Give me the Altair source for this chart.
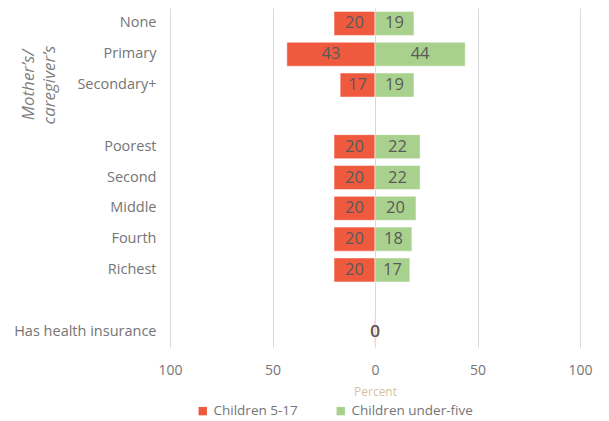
import altair as alt
import pandas as pd

categories = ["None", "Primary", "Secondary+", "Poorest", "Second", "Middle",
              "Fourth", "Richest", "Has health insurance"]
children_5_17 = [20, 43, 17, 20, 20, 20, 20, 20, 0.3]
children_under5 = [19, 44, 19, 22, 22, 20, 18, 17, 0.4]
y_domain = ["None", "Primary", "Secondary+", " ", "Poorest", "Second", "Middle",
            "Fourth", "Richest", "  ", "Has health insurance"]
series = ["Children 5-17", "Children under-five"]
colors = ["#EF5A3F", "#A9D18E"]
x_ticks = [-100, -50, 0, 50, 100]

rows = []
for c, a, b in zip(categories, children_5_17, children_under5):
    rows.append({"cat": c, "series": series[0], "x": -a, "mid": -a / 2, "label": str(round(a))})
    rows.append({"cat": c, "series": series[1], "x": b, "mid": b / 2, "label": str(round(b))})
df = pd.DataFrame(rows)

FONT = "Open Sans"
LABEL_GREY = "#757575"

yenc = alt.Y("cat:N", sort=y_domain,
             scale=alt.Scale(domain=y_domain, paddingInner=0.22, paddingOuter=0.11),
             axis=alt.Axis(title=None, domain=False, ticks=False, grid=False,
                           labelFontSize=14.5, labelColor=LABEL_GREY, labelPadding=14,
                           labelFont=FONT, labelLimit=300))

xscale = alt.Scale(domain=[-100, 100], nice=False)

bars = alt.Chart(df).mark_bar(stroke="white", strokeWidth=0.5).encode(
    x=alt.X("x:Q", scale=xscale,
            axis=alt.Axis(values=x_ticks, labelExpr="abs(datum.value)", grid=True,
                          gridColor="#D9D9D9", domain=False, ticks=False, labelFlush=False,
                          title="Percent", titleColor="#D3C59F", titleFontWeight="normal",
                          titleFontSize=12, titleFont=FONT, titlePadding=9,
                          labelFontSize=14, labelColor=LABEL_GREY, labelPadding=16,
                          labelFont=FONT)),
    y=yenc,
    color=alt.Color("series:N", scale=alt.Scale(domain=series, range=colors),
                    legend=alt.Legend(title=None, orient="none", legendX=26, legendY=396,
                                      direction="horizontal", symbolType="square",
                                      symbolSize=70, labelFontSize=13.5, labelColor=LABEL_GREY,
                                      labelFont=FONT, columnPadding=36, padding=0,
                                      labelOffset=4, symbolStrokeWidth=0)),
)

labels = alt.Chart(df).mark_text(fontSize=16.5, color="#595959", font=FONT).encode(
    x=alt.X("mid:Q", scale=xscale),
    y=alt.Y("cat:N", sort=y_domain),
    text="label:N",
)

ytitle = alt.Chart(pd.DataFrame({"cat": ["Secondary+"], "t": [["Mother\u2019s/", "caregiver\u2019s"]]})).mark_text(
    angle=270, fontSize=17, fontStyle="italic", color="#7F7F7F", font=FONT,
    align="center", baseline="middle", lineHeight=21,
).encode(
    x=alt.value(-141),
    y=alt.Y("cat:N", sort=y_domain),
    text="t",
)

chart = alt.layer(bars, labels, ytitle).properties(
    width=410, height=339,
    autosize=alt.AutoSizeParams(type="none"),
    padding={"left": 162, "top": 0, "right": 20, "bottom": 90},
).configure_view(stroke=None)

chart.save("out.html", embed_options={"renderer": "svg", "actions": False})
